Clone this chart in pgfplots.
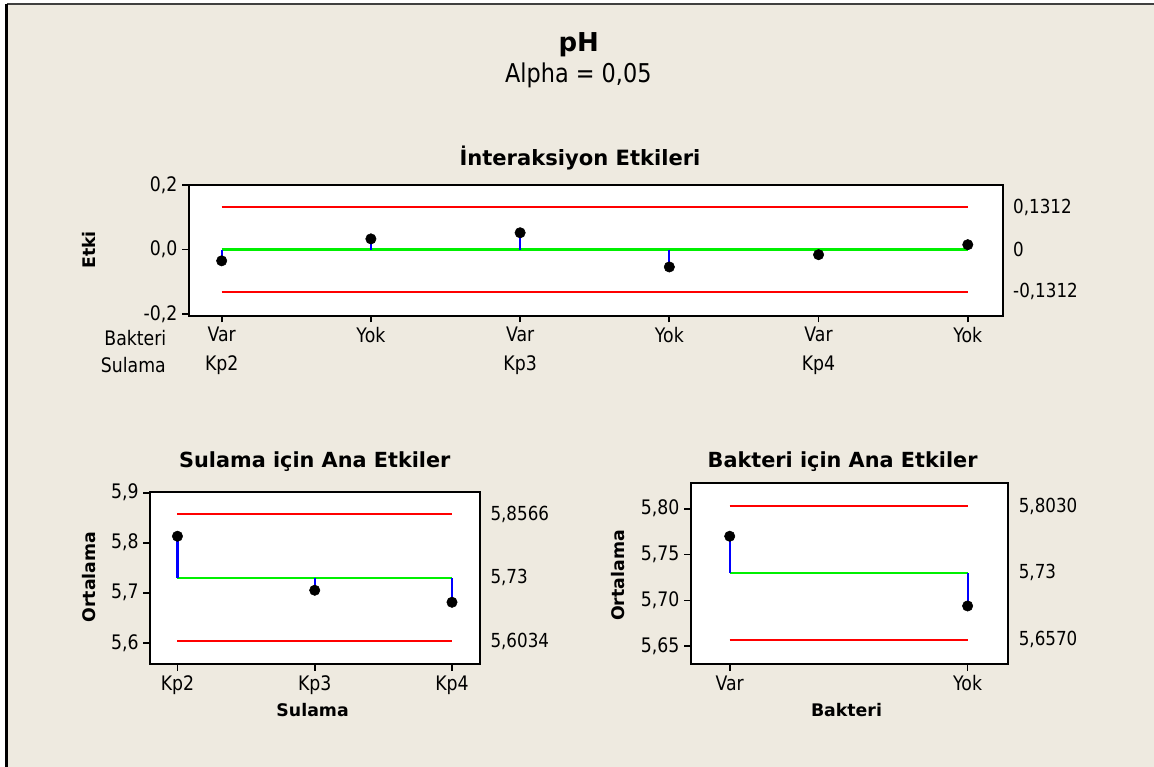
\documentclass[border=0pt]{standalone}
\usepackage{pgfplots}
\pgfplotsset{compat=1.18}
\usepackage{pgfplotstable}
\usepackage{fontspec}
\setmainfont{DejaVu Sans}[FakeStretch=0.865]
\newfontfamily\tfont{DejaVu Sans}
\definecolor{bg}{RGB}{238,234,224}
\definecolor{mred}{RGB}{255,0,0}
\definecolor{mgreen}{RGB}{0,240,0}
\definecolor{mblue}{RGB}{0,0,255}

\pgfplotstableread{
x y
1 -0.035
2 0.033
3 0.052
4 -0.054
5 -0.016
6 0.015
}\inter
\pgfplotstableread{
x y
1 5.813
2 5.705
3 5.681
}\sulama
\pgfplotstableread{
x y
1 5.770
2 5.694
}\bakteri

\pgfplotsset{anom/.style={
  scale only axis,
  anchor=north west,
  axis background/.style={fill=white},
  axis line style={line width=1.5pt, black},
  tick align=outside,
  tick pos=left,
  major tick length=5pt,
  tick style={line width=1.3pt, black},
  ticklabel style={font=\fontsize{15}{21.5}\selectfont},
  /pgf/number format/assume math mode=true,
  clip=false,
}}
\tikzset{rlab/.style={anchor=west, inner sep=0pt, font=\fontsize{14.5}{17}\selectfont, xshift=7.7pt}}

\begin{document}
\begin{tikzpicture}
\begin{scope}[x=0.75pt,y=-0.75pt]
\fill[white] (0,0) rectangle (1154,767);
\fill[bg] (6.5,4.3) rectangle (1154,767);
\draw[line width=1.5pt, black!75] (6.5,4.3) -- (1154,4.3);
\draw[line width=2.2pt, black] (6.5,767) -- (6.5,4.3);
\end{scope}

% ---------------- Interaction effects ----------------
\begin{axis}[anom,
  at={(141.525pt,-138.75pt)},
  width=610.5pt, height=98pt,
  xmin=0.779, xmax=6.234, ymin=-0.205, ymax=0.2,
  xtick={1,2,3,4,5,6},
  xticklabels={{Var\\Kp2},{Yok},{Var\\Kp3},{Yok},{Var\\Kp4},{Yok}},
  xticklabel style={align=center},
  ytick={-0.2,0,0.2},
  yticklabels={{-0,2},{0,0},{0,2}},
]
\addplot[mred, line width=1.6pt] coordinates {(1,0.1312) (6,0.1312)};
\addplot[mred, line width=1.6pt] coordinates {(1,-0.1312) (6,-0.1312)};
\addplot[mgreen, line width=1.6pt] coordinates {(1,0) (6,0)};
\addplot[mblue, line width=1.6pt, unbounded coords=jump] coordinates {
  (1,0) (1,-0.035) (1,nan)
  (2,0) (2,0.033) (2,nan)
  (3,0) (3,0.052) (3,nan)
  (4,0) (4,-0.054) (4,nan)
  (5,0) (5,-0.016) (5,nan)
  (6,0) (6,0.015)};
\addplot[only marks, mark=*, mark size=3.9pt, black] table {\inter};
\node[rlab] at (axis cs:6.234,0.1312) {0,1312};
\node[rlab] at (axis cs:6.234,0) {0};
\node[rlab] at (axis cs:6.234,-0.1312) {-0,1312};
\end{axis}

% ---------------- Sulama main effects ----------------
\begin{axis}[anom,
  at={(112.5pt,-368.775pt)},
  width=247.5pt, height=129.45pt,
  xmin=0.8, xmax=3.204, ymin=5.557, ymax=5.902,
  xtick={1,2,3},
  xticklabels={Kp2,Kp3,Kp4},
  ytick={5.6,5.7,5.8,5.9},
  yticklabels={{5,6},{5,7},{5,8},{5,9}},
]
\addplot[mred, line width=1.6pt] coordinates {(1,5.8566) (3,5.8566)};
\addplot[mred, line width=1.6pt] coordinates {(1,5.6034) (3,5.6034)};
\addplot[mgreen, line width=1.6pt] coordinates {(1,5.73) (3,5.73)};
\addplot[mblue, line width=1.6pt, unbounded coords=jump] coordinates {
  (1,5.73) (1,5.813) (1,nan)
  (2,5.73) (2,5.705) (2,nan)
  (3,5.73) (3,5.681)};
\addplot[only marks, mark=*, mark size=3.9pt, black] table {\sulama};
\node[rlab] at (axis cs:3.204,5.8566) {5,8566};
\node[rlab] at (axis cs:3.204,5.73) {5,73};
\node[rlab] at (axis cs:3.204,5.6034) {5,6034};
\end{axis}

% ---------------- Bakteri main effects ----------------
\begin{axis}[anom,
  at={(518.025pt,-362.475pt)},
  width=238.2pt, height=135.75pt,
  xmin=0.836, xmax=2.171, ymin=5.6304, ymax=5.8277,
  xtick={1,2},
  xticklabels={Var,Yok},
  ytick={5.65,5.70,5.75,5.80},
  yticklabels={{5,65},{5,70},{5,75},{5,80}},
]
\addplot[mred, line width=1.6pt] coordinates {(1,5.8030) (2,5.8030)};
\addplot[mred, line width=1.6pt] coordinates {(1,5.6570) (2,5.6570)};
\addplot[mgreen, line width=1.6pt] coordinates {(1,5.73) (2,5.73)};
\addplot[mblue, line width=1.6pt, unbounded coords=jump] coordinates {
  (1,5.73) (1,5.770) (1,nan)
  (2,5.73) (2,5.694)};
\addplot[only marks, mark=*, mark size=3.9pt, black] table {\bakteri};
\node[rlab] at (axis cs:2.171,5.8030) {5,8030};
\node[rlab] at (axis cs:2.171,5.73) {5,73};
\node[rlab] at (axis cs:2.171,5.6570) {5,6570};
\end{axis}

\begin{scope}[x=0.75pt,y=-0.75pt]
\node[anchor=base, inner sep=0pt, font=\tfont\bfseries\fontsize{19.5}{22}\selectfont] at (578.8,51.7) {pH};
\node[anchor=base, inner sep=0pt, font=\fontsize{19.4}{23}\selectfont] at (578.3,82.3) {Alpha = 0,05};
\node[anchor=base, inner sep=0pt, font=\tfont\bfseries\fontsize{15.8}{18}\selectfont] at (580,165.7) {İnteraksiyon Etkileri};
\node[anchor=base, inner sep=0pt, font=\tfont\bfseries\fontsize{15.6}{18}\selectfont] at (314.8,467.3) {Sulama için Ana Etkiler};
\node[anchor=base, inner sep=0pt, font=\tfont\bfseries\fontsize{15.6}{18}\selectfont] at (842.6,467.3) {Bakteri için Ana Etkiler};
\node[rotate=90, inner sep=0pt, font=\tfont\bfseries\fontsize{13}{15}\selectfont] at (89,250) {Etki};
\node[rotate=90, inner sep=0pt, font=\tfont\bfseries\fontsize{13}{15}\selectfont] at (89.5,577.2) {Ortalama};
\node[rotate=90, inner sep=0pt, font=\tfont\bfseries\fontsize{13}{15}\selectfont] at (618,575.5) {Ortalama};
\node[anchor=base, inner sep=0pt, font=\tfont\bfseries\fontsize{13}{15}\selectfont] at (312.6,716.7) {Sulama};
\node[anchor=base, inner sep=0pt, font=\tfont\bfseries\fontsize{13}{15}\selectfont] at (846.5,716.7) {Bakteri};
\node[anchor=base east, inner sep=0pt, font=\fontsize{15}{20.8}\selectfont] at (166.5,345) {Bakteri};
\node[anchor=base east, inner sep=0pt, font=\fontsize{15}{20.8}\selectfont] at (166,372.7) {Sulama};
\end{scope}
\pgfresetboundingbox
\useasboundingbox (0,0) rectangle (865.5pt,-575.25pt);
\end{tikzpicture}
\end{document}
